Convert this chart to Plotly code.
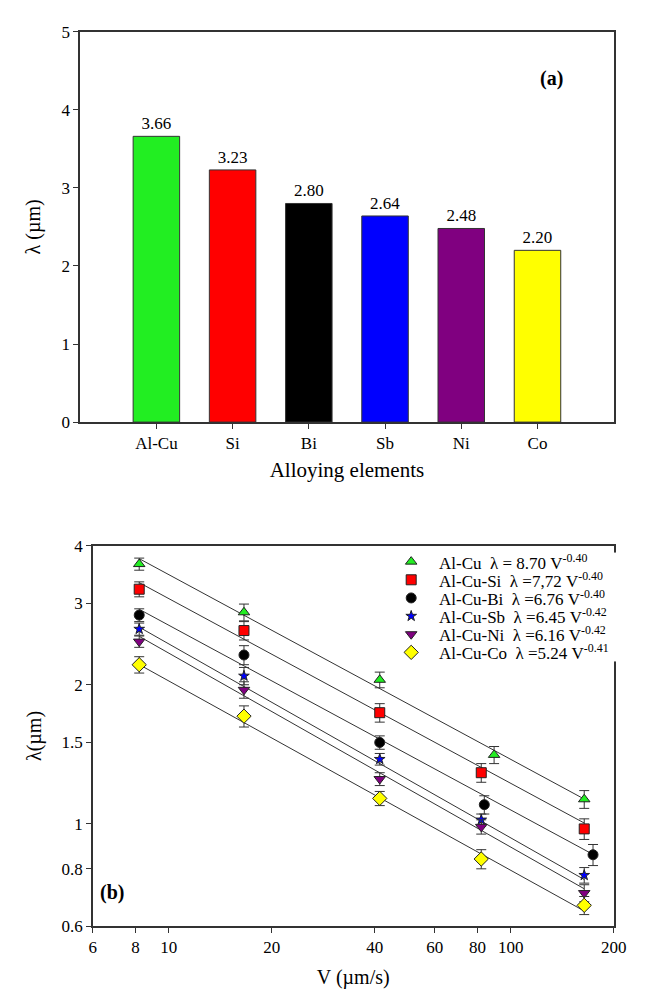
import numpy as np
import plotly.graph_objects as go

# ---------------- data: panel (a) ----------------
elements = ["Al-Cu", "Si", "Bi", "Sb", "Ni", "Co"]
lam_bar = [3.66, 3.23, 2.80, 2.64, 2.48, 2.20]
bar_labels = ["3.66", "3.23", "2.80", "2.64", "2.48", "2.20"]
bar_colors = ["#22ee22", "#ff0000", "#000000", "#0000ff", "#800080", "#ffff00"]

# ---------------- data: panel (b) ----------------
series_names = ["Al-Cu", "Al-Cu-Si", "Al-Cu-Bi", "Al-Cu-Sb", "Al-Cu-Ni", "Al-Cu-Co"]
coef_A = [8.70, 7.72, 6.76, 6.45, 6.16, 5.24]
coef_n = [-0.40, -0.40, -0.40, -0.42, -0.42, -0.41]
coef_A_txt = ["= 8.70", "=7,72", "=6.76", "=6.45", "=6.16", "=5.24"]
coef_n_txt = ["-0.40", "-0.40", "-0.40", "-0.42", "-0.42", "-0.41"]

V_alcu = [8.2, 16.6, 41.4, 89.4, 164]
V_si = [8.2, 16.6, 41.4, 82.0, 164]
V_bi = [8.2, 16.6, 41.4, 83.7, 174]
V_sb = [8.2, 16.6, 41.4, 82.0, 164]
V_ni = [8.2, 16.6, 41.4, 82.0, 164]
V_co = [8.2, 16.6, 41.4, 82.0, 164]

lam_alcu = [3.65, 2.87, 2.05, 1.41, 1.13]
lam_si = [3.22, 2.62, 1.74, 1.29, 0.975]
lam_bi = [2.83, 2.32, 1.50, 1.10, 0.857]
lam_sb = [2.64, 2.09, 1.38, 1.02, 0.774]
lam_ni = [2.48, 1.95, 1.25, 0.985, 0.708]
lam_co = [2.21, 1.71, 1.135, 0.839, 0.666]

err_alcu = [0.11, 0.12, 0.08, 0.06, 0.05]
err_si = [0.12, 0.12, 0.08, 0.06, 0.05]
err_bi = [0.09, 0.11, 0.05, 0.05, 0.045]
err_sb = [0.08, 0.09, 0.04, 0.03, 0.03]
err_ni = [0.07, 0.08, 0.04, 0.035, 0.03]
err_co = [0.09, 0.09, 0.04, 0.04, 0.03]

V_all = [V_alcu, V_si, V_bi, V_sb, V_ni, V_co]
lam_all = [lam_alcu, lam_si, lam_bi, lam_sb, lam_ni, lam_co]
err_all = [err_alcu, err_si, err_bi, err_sb, err_ni, err_co]

mk_symbols = ["triangle-up", "square", "circle", "star", "triangle-down", "diamond"]
mk_colors = ["#22ee22", "#ff0000", "#000000", "#0000ff", "#800080", "#ffff00"]
mk_sizes = [10, 10, 10, 8, 10, 11]

x_ticks_b = [6, 8, 10, 20, 40, 60, 80, 100, 200]
y_ticks_b = [0.6, 0.8, 1, 1.5, 2, 3, 4]

FONT = "Liberation Serif"
AX = "#333333"

W, H = 645, 994
fig = go.Figure()

# panel (a) bars
fig.add_trace(go.Bar(
    x=elements, y=lam_bar, text=bar_labels, textposition="outside",
    textfont=dict(family=FONT, size=17, color="black"),
    marker=dict(color=bar_colors, line=dict(color="#333333", width=1)),
    width=0.61, xaxis="x", yaxis="y", showlegend=False, cliponaxis=False,
))

# panel (b) fit lines
for i in range(6):
    vv = np.array([min(V_all[i]), max(V_all[i])])
    fig.add_trace(go.Scatter(
        x=vv, y=coef_A[i] * vv ** coef_n[i], mode="lines",
        line=dict(color="#333333", width=1), xaxis="x2", yaxis="y2",
        showlegend=False, hoverinfo="skip",
    ))

# panel (b) points
for i in range(6):
    fig.add_trace(go.Scatter(
        x=V_all[i], y=lam_all[i], mode="markers", showlegend=False,
        marker=dict(symbol=mk_symbols[i], color=mk_colors[i], size=mk_sizes[i],
                    opacity=1, line=dict(color="#222222", width=1)),
        error_y=dict(type="data", array=err_all[i], visible=True,
                     color="#333333", thickness=1, width=5),
        xaxis="x2", yaxis="y2",
    ))

# legend (manual, one row per series on an overlay axis)
rows = list(range(len(series_names)))
fig.add_trace(go.Scatter(
    x=[0] * len(rows), y=rows, mode="markers", showlegend=False, hoverinfo="skip",
    marker=dict(symbol=mk_symbols, color=mk_colors, size=mk_sizes, opacity=1,
                line=dict(color="#222222", width=1)),
    xaxis="x3", yaxis="y3",
))

legend_ann = []
for i in rows:
    legend_ann.append(dict(
        text=f"{series_names[i]}\u00a0\u00a0λ {coef_A_txt[i]} V<sup>{coef_n_txt[i]}</sup>",
        x=1.3, y=i, xref="x3", yref="y3", xanchor="left", yanchor="middle",
        showarrow=False, font=dict(family=FONT, size=17, color="black"),
    ))


def px_x(p):
    return p / W


def px_y(p):
    return 1 - p / H


axis_common = dict(showline=True, linecolor=AX, linewidth=1.5, mirror=True,
                   ticks="outside", ticklen=5, tickcolor=AX, tickwidth=1,
                   showgrid=False, zeroline=False,
                   tickfont=dict(family=FONT, size=17, color="black"))

hidden = dict(visible=False, showgrid=False, zeroline=False, fixedrange=True)

fig.update_layout(
    width=W, height=H, margin=dict(l=0, r=0, t=0, b=0),
    paper_bgcolor="white", plot_bgcolor="white",
    font=dict(family=FONT, color="black"),
    showlegend=False,
    xaxis=dict(domain=[px_x(70), px_x(618)], anchor="y", range=[-1, 6],
               title=dict(text="Alloying elements", font=dict(family=FONT, size=21), standoff=10),
               **axis_common),
    yaxis=dict(domain=[px_y(413), px_y(15)], anchor="x", range=[0, 5],
               tickvals=[0, 1, 2, 3, 4, 5],
               title=dict(text="λ (µm)", font=dict(family=FONT, size=20), standoff=16),
               **axis_common),
    xaxis2=dict(domain=[px_x(83), px_x(618)], anchor="y2", type="log",
                range=[np.log10(6), np.log10(200)], tickvals=x_ticks_b,
                ticktext=[str(v) for v in x_ticks_b],
                title=dict(text="V (µm/s)", font=dict(family=FONT, size=20), standoff=14),
                **axis_common),
    yaxis2=dict(domain=[px_y(927), px_y(539)], anchor="x2", type="log",
                range=[np.log10(0.6), np.log10(4)], tickvals=y_ticks_b,
                ticktext=[str(v) for v in y_ticks_b],
                title=dict(text="λ(µm)", font=dict(family=FONT, size=20), standoff=14),
                **axis_common),
    xaxis3=dict(domain=[px_x(390), px_x(630)], anchor="y3", range=[-1, 11], **hidden),
    yaxis3=dict(domain=[px_y(657), px_y(546)], anchor="x3", range=[5.5, -0.5], **hidden),
    annotations=[
        dict(text="<b>(a)</b>", x=px_x(554), y=px_y(63), xref="paper", yref="paper",
             xanchor="center", yanchor="middle",
             showarrow=False, font=dict(family=FONT, size=20)),
        dict(text="<b>(b)</b>", x=px_x(103), y=px_y(893), xref="paper", yref="paper",
             xanchor="center", yanchor="middle",
             showarrow=False, font=dict(family=FONT, size=20)),
    ] + legend_ann,
    bargap=0.39,
)

fig.write_html("out.html")
